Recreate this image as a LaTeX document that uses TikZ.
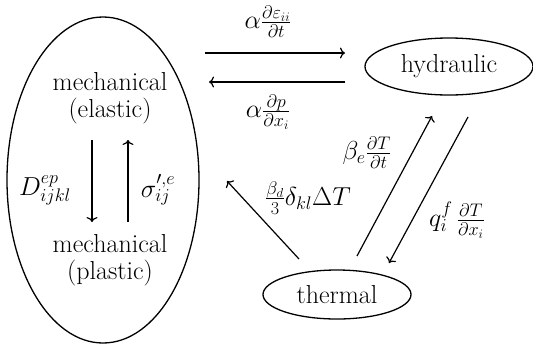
\RequirePackage{fix-cm}
\documentclass[tikz,border=0pt]{standalone}
\usepackage{fontspec}
\usetikzlibrary{shapes.geometric,arrows.meta}
\begin{document}
\begin{tikzpicture}[x=1pt,y=-1pt,
  every node/.style={font=\fontsize{26}{27}\selectfont, inner sep=0pt},
  oval/.style={draw, ellipse, line width=1.3pt},
  link/.style={-{To[length=5pt,width=11pt]}, line width=1.2pt}]
\useasboundingbox (0,0) rectangle (533,349);
% nodes
\node[oval, minimum width=192pt, minimum height=326pt] (mech) at (103,180) {};
\node[align=center] (mel) at (110,98) {mechanical\\(elastic)};
\node[align=center] (mpl) at (110,260) {mechanical\\(plastic)};
\node[oval, minimum width=168pt, minimum height=57pt] (hyd) at (449,66.5) {hydraulic};
\node[oval, minimum width=148pt, minimum height=49pt] (th) at (337,294.5) {thermal};
% labels
\node (ldep) at (45,190) {$D^{ep}_{ijkl}$};
\node (lsig) at (158,190) {$\sigma^{\prime,e}_{ij}$};
\node (leps) at (268,22) {$\alpha\frac{\partial\varepsilon_{ii}}{\partial t}$};
\node (lp) at (268,112) {$\alpha\frac{\partial p}{\partial x_i}$};
\node (lbe) at (367,153) {$\beta_e\frac{\partial T}{\partial t}$};
\node (lbd) at (308,198) {$\frac{\beta_d}{3}\delta_{kl}\Delta T$};
\node (lq) at (457,220) {$q_i^f\,\frac{\partial T}{\partial x_i}$};
% connectors
\draw[link, shorten <=16pt, shorten >=12pt] ([xshift=-18pt]mel.south) -- ([xshift=-18pt]mpl.north);
\draw[link, shorten <=12pt, shorten >=16pt] ([xshift=18pt]mpl.north) -- ([xshift=18pt]mel.south);
\draw[link] ([xshift=102pt,yshift=127pt]mech.center) -- ([xshift=-104pt,yshift=13.5pt]hyd.center);
\draw[link] ([xshift=-104pt,yshift=-15.5pt]hyd.center) -- ([xshift=106pt,yshift=98pt]mech.center);
\draw[link] ([xshift=-38pt,yshift=35.5pt]th.center) -- ([xshift=124pt,yshift=-1pt]mech.center);
\draw[link] ([xshift=20pt,yshift=38.5pt]th.center) -- ([xshift=-17pt,yshift=-49.5pt]hyd.center);
\draw[link] ([xshift=19pt,yshift=-50.5pt]hyd.center) -- ([xshift=52pt,yshift=31.5pt]th.center);
\end{tikzpicture}
\end{document}
